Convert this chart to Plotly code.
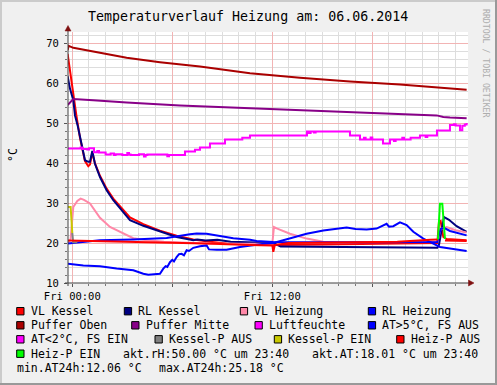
import plotly.graph_objects as go
import pandas as pd

# ---------------- data (hours relative to Fri 06.06.2014 00:00) ----------------
vl_kessel_h = [-0.28, -0.2, -0.04, 0.1, 0.24, 0.46, 0.76, 0.96, 1.06, 1.2, 1.36, 1.66, 2.06, 2.46, 3.06, 3.46,
               4.26, 5.26, 6.26, 7.26, 8.26, 9.26, 10.66, 12.0, 12.06, 12.15, 15.0, 18.0, 21.9, 22.0, 22.1,
               22.26, 22.46, 23.66]
vl_kessel = [67.3, 64.8, 59.8, 55.7, 52.0, 46.3, 40.5, 39.2, 39.6, 42.6, 39.9, 36.8, 33.6, 31.1, 28.3, 26.4,
             24.7, 23.1, 21.8, 20.9, 20.3, 19.9, 19.6, 19.5, 17.8, 19.5, 19.6, 19.8, 20.0, 25.3, 25.5,
             21.5, 21.0, 20.7]

rl_kessel_h = [-0.28, -0.14, 0.06, 0.16, 0.32, 0.46, 0.76, 0.96, 1.06, 1.2, 1.36, 1.66, 2.06, 2.46, 3.06, 3.46,
               4.26, 5.26, 6.26, 7.26, 7.5, 8.0, 8.7, 9.5, 12.06, 12.5, 15.0, 18.0, 21.9, 22.0, 22.3, 22.6,
               23.06, 23.66]
rl_kessel = [61.7, 58.6, 55.7, 51.9, 49.4, 46.5, 40.7, 40.3, 40.3, 43.0, 39.8, 36.5, 33.2, 30.7, 27.8, 25.7,
             24.3, 22.8, 21.5, 20.7, 20.9, 20.6, 20.8, 20.3, 20.0, 19.1, 19.0, 18.9, 18.8, 19.5, 26.5, 25.8,
             24.2, 22.8]

vl_heizung_h = [-0.28, -0.1, 0.06, 0.3, 0.5, 0.7, 1.06, 1.66, 2.26, 3.06, 3.66, 4.46, 5.5, 8.0, 12.0, 12.1,
                12.3, 13.06, 14.06, 15.06, 16.0, 21.9, 22.1, 22.46, 23.0, 23.66]
vl_heizung = [19.9, 21.0, 29.0, 30.5, 31.1, 30.8, 29.9, 26.3, 24.0, 22.3, 21.2, 20.7, 20.3, 19.9, 19.8, 24.0,
              23.6, 22.3, 21.1, 20.3, 20.2, 20.3, 23.5, 24.0, 23.2, 22.6]

rl_heizung_h = [-0.28, 1.66, 3.66, 5.66, 7.06, 7.46, 8.06, 8.66, 9.66, 10.66, 11.06, 12.06, 14.0, 18.0, 21.9,
                22.1, 22.3, 22.66, 23.66]
rl_heizung = [19.85, 20.7, 20.9, 21.25, 22.2, 22.4, 22.3, 21.9, 21.2, 20.8, 20.5, 20.25, 20.2, 20.2, 20.25,
              23.5, 23.8, 23.0, 21.9]

puffer_oben_h = [-0.28, -0.22, 0.06, 1.26, 3.26, 5.26, 7.66, 10.66, 13.66, 16.66, 19.66, 23.66]
puffer_oben = [68.2, 69.3, 68.8, 67.8, 66.3, 65.2, 64.1, 62.45, 61.3, 60.4, 59.6, 58.3]

puffer_mitte_h = [-0.28, -0.1, 0.06, 1.26, 3.26, 6.46, 10.66, 13.66, 16.66, 19.66, 21.86, 22.26, 22.66, 23.66]
puffer_mitte = [54.5, 55.3, 56.0, 55.7, 55.1, 54.4, 53.7, 53.2, 52.75, 52.35, 51.9, 51.5, 51.35, 51.2]

luft_h = [-0.28, 0.5, 0.6, 0.9, 1.0, 1.3, 1.5, 1.6, 2.0, 2.3, 2.5, 2.6, 3.0, 3.3, 3.4, 3.5, 4.0, 4.3, 4.4,
          4.5, 5.5, 5.7, 5.8, 6.0, 6.76, 7.36, 7.66, 8.26, 9.16, 10.2, 10.66, 14.08, 14.2, 14.3, 14.5, 14.6,
          16.66, 17.26, 17.5, 17.6, 17.9, 18.0, 18.64, 19.06, 19.3, 19.4, 19.8, 19.9, 20.3, 20.86, 21.2, 21.3,
          21.88, 22.66, 22.9, 23.0, 23.26, 23.4, 23.55, 23.66]
luft = [43.6, 43.9, 43.5, 43.4, 43.7, 42.7, 43.0, 42.6, 42.1, 42.4, 42.0, 42.2, 42.0, 42.5, 42.1, 42.0, 42.2,
        41.6, 42.0, 42.1, 42.1, 41.7, 42.0, 42.0, 42.9, 43.3, 43.85, 44.85, 45.9, 46.3, 46.9, 47.9, 47.5, 47.9,
        47.6, 47.9, 46.9, 45.9, 46.3, 45.9, 46.4, 45.9, 44.85, 45.9, 45.5, 45.9, 46.3, 45.9, 46.3, 46.9, 46.5,
        46.9, 48.1, 49.5, 49.7, 49.4, 48.2, 49.3, 49.6, 50.0]

at_h = [-0.28, 0.66, 1.66, 2.66, 3.66, 4.26, 4.56, 5.0, 5.26, 5.46, 5.6, 5.7, 5.86, 6.0, 6.1, 6.26, 6.4, 6.56,
        6.7, 6.86, 7.0, 7.26, 7.66, 8.06, 8.2, 8.66, 9.26, 10.06, 10.66, 11.5, 12.06, 13.06, 14.06, 15.06,
        16.46, 17.0, 17.66, 18.26, 18.86, 19.0, 19.26, 19.66, 20.06, 20.46, 21.06, 21.66, 22.06, 22.66, 23.66]
at = [14.85, 14.4, 14.2, 13.6, 13.2, 12.3, 12.06, 12.2, 12.3, 13.6, 14.2, 14.0, 15.2, 15.8, 15.4, 16.5, 17.2,
      17.3, 16.9, 18.2, 18.0, 18.8, 19.2, 19.4, 18.4, 18.3, 18.3, 19.0, 19.4, 19.8, 20.0, 21.1, 22.3, 23.1,
      23.85, 23.5, 23.35, 23.6, 24.8, 24.1, 24.2, 25.18, 24.5, 22.8, 21.1, 19.85, 19.0, 18.6, 18.01]

kesselp_ein_h = [-0.28, -0.1, 0.0]
kesselp_ein = [29.0, 29.0, 22.5]
kesselp_aus_h = [0.0, 0.05, 0.3]
kesselp_aus = [22.5, 20.2, 20.2]

heizp_aus_h = [-0.28, 2.0, 5.0, 8.0, 10.66, 12.0, 13.0, 16.0, 19.5, 21.5, 21.94, None, 22.36, 23.66]
heizp_aus = [20.6, 20.4, 20.2, 19.9, 19.5, 19.4, 20.0, 20.2, 20.3, 20.8, 20.9, None, 20.6, 20.5]
heizp_ein_h = [21.94, 22.06, 22.2, 22.36]
heizp_ein = [20.9, 29.8, 29.8, 21.0]

y_ticks = [10, 20, 30, 40, 50, 60, 70]
x_tick_labels = ["Fri 00:00", "", "Fri 12:00", ""]

legend_rows = [
    [("VL Kessel", "#FF0000"), ("RL Kessel", "#000080"), ("VL Heizung", "#FF88A8"), ("RL Heizung", "#0000FF")],
    [("Puffer Oben", "#AA0000"), ("Puffer Mitte", "#880088"), ("Luftfeuchte", "#FF00FF"),
     ("AT>5°C, FS AUS", "#0000FF")],
    [("AT<2°C, FS EIN", "#FF00FF"), ("Kessel-P AUS", "#808080"), ("Kessel-P EIN", "#C8C800"),
     ("Heiz-P AUS", "#FF0000")],
    [("Heiz-P EIN", "#00FF00")],
]
info_row4 = ["akt.rH:50.00 °C um 23:40", "akt.AT:18.01 °C um 23:40"]
info_row5 = ["min.AT24h:12.06 °C", "max.AT24h:25.18 °C"]

# ---------------- figure ----------------
base = pd.Timestamp("2014-06-06 00:00")


def tx(hours):
    return [None if h is None else base + pd.Timedelta(hours=h) for h in hours]


W, H = 497, 385
L, R, T, B = 68, 468, 32, 283


def px(x):
    return (x - L) / (R - L)


def py(y):
    return (B - y) / (B - T)


MONO = "DejaVu Sans Mono"
fig = go.Figure()

series = [
    (vl_kessel_h, vl_kessel, "#FF0000", "linear"),
    (rl_kessel_h, rl_kessel, "#000080", "linear"),
    (vl_heizung_h, vl_heizung, "#FF88A8", "linear"),
    (rl_heizung_h, rl_heizung, "#0000FF", "linear"),
    (puffer_oben_h, puffer_oben, "#AA0000", "linear"),
    (puffer_mitte_h, puffer_mitte, "#880088", "linear"),
    (luft_h, luft, "#FF00FF", "hv"),
    (at_h, at, "#0000FF", "linear"),
    (kesselp_aus_h, kesselp_aus, "#808080", "linear"),
    (kesselp_ein_h, kesselp_ein, "#C8C800", "linear"),
    (heizp_aus_h, heizp_aus, "#FF0000", "linear"),
    (heizp_ein_h, heizp_ein, "#00FF00", "linear"),
]
for hs, vs, col, shape in series:
    fig.add_trace(go.Scatter(x=tx(hs), y=vs, mode="lines", line=dict(color=col, width=2, shape=shape),
                             showlegend=False, hoverinfo="skip"))

t0 = base + pd.Timedelta(hours=(L - 72.3) / (400 / 24))
t1 = t0 + pd.Timedelta(hours=24)

fig.update_layout(
    width=W, height=H,
    margin=dict(l=L, r=W - R, t=T, b=H - B, pad=0),
    paper_bgcolor="#F0F0F0", plot_bgcolor="#FFFFFF",
    showlegend=False,
    xaxis=dict(type="date", range=[t0, t1], tickmode="array",
               tickvals=[base + pd.Timedelta(hours=h) for h in (0, 6, 12, 18)],
               ticktext=x_tick_labels, showgrid=True, gridcolor="#F2B4B4", gridwidth=1,
               ticks="outside", ticklen=3, tickcolor="#555555",
               tickfont=dict(family=MONO, size=10.5, color="#000000"),
               minor=dict(tickmode="linear", tick0=base, dtick=3600000, showgrid=True,
                          gridcolor="#DDDDDD", ticks="outside", ticklen=2, tickcolor="#777777"),
               zeroline=False, showline=False, fixedrange=True, automargin=False),
    yaxis=dict(range=[10, 10 + (B - T) / 4], tickmode="array", tickvals=y_ticks,
               ticktext=[str(v) for v in y_ticks], showgrid=True, gridcolor="#F2B4B4", gridwidth=1,
               ticks="outside", ticklen=3, tickcolor="#555555", ticklabelstandoff=3,
               tickfont=dict(family=MONO, size=10.5, color="#000000"),
               minor=dict(tickmode="linear", tick0=10, dtick=2, showgrid=True,
                          gridcolor="#DDDDDD", ticks="outside", ticklen=2, tickcolor="#777777"),
               zeroline=False, showline=False, fixedrange=True, automargin=False),
)

shapes = []
# frame shading
shapes.append(dict(type="rect", xref="paper", yref="paper", x0=px(0), x1=px(2), y0=py(H), y1=py(0),
                   fillcolor="#CBCBCB", line=dict(width=0), layer="above"))
shapes.append(dict(type="rect", xref="paper", yref="paper", x0=px(0), x1=px(W), y0=py(2), y1=py(0),
                   fillcolor="#CBCBCB", line=dict(width=0), layer="above"))
shapes.append(dict(type="rect", xref="paper", yref="paper", x0=px(W - 2), x1=px(W), y0=py(H), y1=py(0),
                   fillcolor="#999999", line=dict(width=0), layer="above"))
shapes.append(dict(type="rect", xref="paper", yref="paper", x0=px(0), x1=px(W), y0=py(H), y1=py(H - 2),
                   fillcolor="#999999", line=dict(width=0), layer="above"))
# axes with arrows
shapes.append(dict(type="line", xref="paper", yref="paper", x0=px(L), x1=px(L), y0=py(B + 3), y1=py(28),
                   line=dict(color="#404040", width=1), layer="above"))
shapes.append(dict(type="line", xref="paper", yref="paper", x0=px(L - 3), x1=px(471), y0=py(B), y1=py(B),
                   line=dict(color="#404040", width=1), layer="above"))
shapes.append(dict(type="path", xref="paper", yref="paper",
                   path=f"M {px(65)},{py(31)} L {px(71)},{py(31)} L {px(68)},{py(25.5)} Z",
                   fillcolor="#7F1010", line=dict(color="#7F1010", width=0.5), layer="above"))
shapes.append(dict(type="path", xref="paper", yref="paper",
                   path=f"M {px(468.5)},{py(280)} L {px(468.5)},{py(286)} L {px(474)},{py(283)} Z",
                   fillcolor="#7F1010", line=dict(color="#7F1010", width=0.5), layer="above"))

annotations = []
annotations.append(dict(text="Temperaturverlauf Heizung am: 06.06.2014", xref="paper", yref="paper",
                        x=px(248), y=py(16), xanchor="center", yanchor="middle", showarrow=False,
                        font=dict(family=MONO, size=13.3, color="#000000")))
annotations.append(dict(text="°C", xref="paper", yref="paper", x=px(13), y=py(155), xanchor="center",
                        yanchor="middle", showarrow=False, textangle=-90,
                        font=dict(family=MONO, size=11.5, color="#000000")))
annotations.append(dict(text="RRDTOOL / TOBI OETIKER", xref="paper", yref="paper", x=px(486), y=py(63),
                        xanchor="center", yanchor="middle", showarrow=False, textangle=90,
                        font=dict(family=MONO, size=8.2, color="#ADADAD")))

row_y = [311.2, 325.3, 339.3, 353.7]
swatch_x = [[16.7, 124.3, 240.3, 368.3], [16.7, 131.7, 255.0, 368.3], [16.7, 155.0, 274.3, 396.7], [16.7]]
LF = dict(family=MONO, size=11.5, color="#000000")
for r, row in enumerate(legend_rows):
    for c, (label, col) in enumerate(row):
        sx = swatch_x[r][c]
        yc = row_y[r]
        shapes.append(dict(type="rect", xref="paper", yref="paper", x0=px(sx), x1=px(sx + 7.3),
                           y0=py(yc + 3.7), y1=py(yc - 3.7), fillcolor=col,
                           line=dict(color="#000000", width=1), layer="above"))
        annotations.append(dict(text=label, xref="paper", yref="paper", x=px(sx + 12), y=py(yc),
                                xanchor="left", yanchor="middle", showarrow=False, font=LF))
for txt, xx in zip(info_row4, [120.7, 310.3]):
    annotations.append(dict(text=txt, xref="paper", yref="paper", x=px(xx), y=py(row_y[3]),
                            xanchor="left", yanchor="middle", showarrow=False, font=LF))
for txt, xx in zip(info_row5, [14.7, 157.0]):
    annotations.append(dict(text=txt, xref="paper", yref="paper", x=px(xx), y=py(367.5),
                            xanchor="left", yanchor="middle", showarrow=False, font=LF))

fig.update_layout(shapes=shapes, annotations=annotations)
fig.write_html("out.html", config={"displayModeBar": False},
               post_script="document.body.style.margin='0px';document.body.style.padding='0px';")
